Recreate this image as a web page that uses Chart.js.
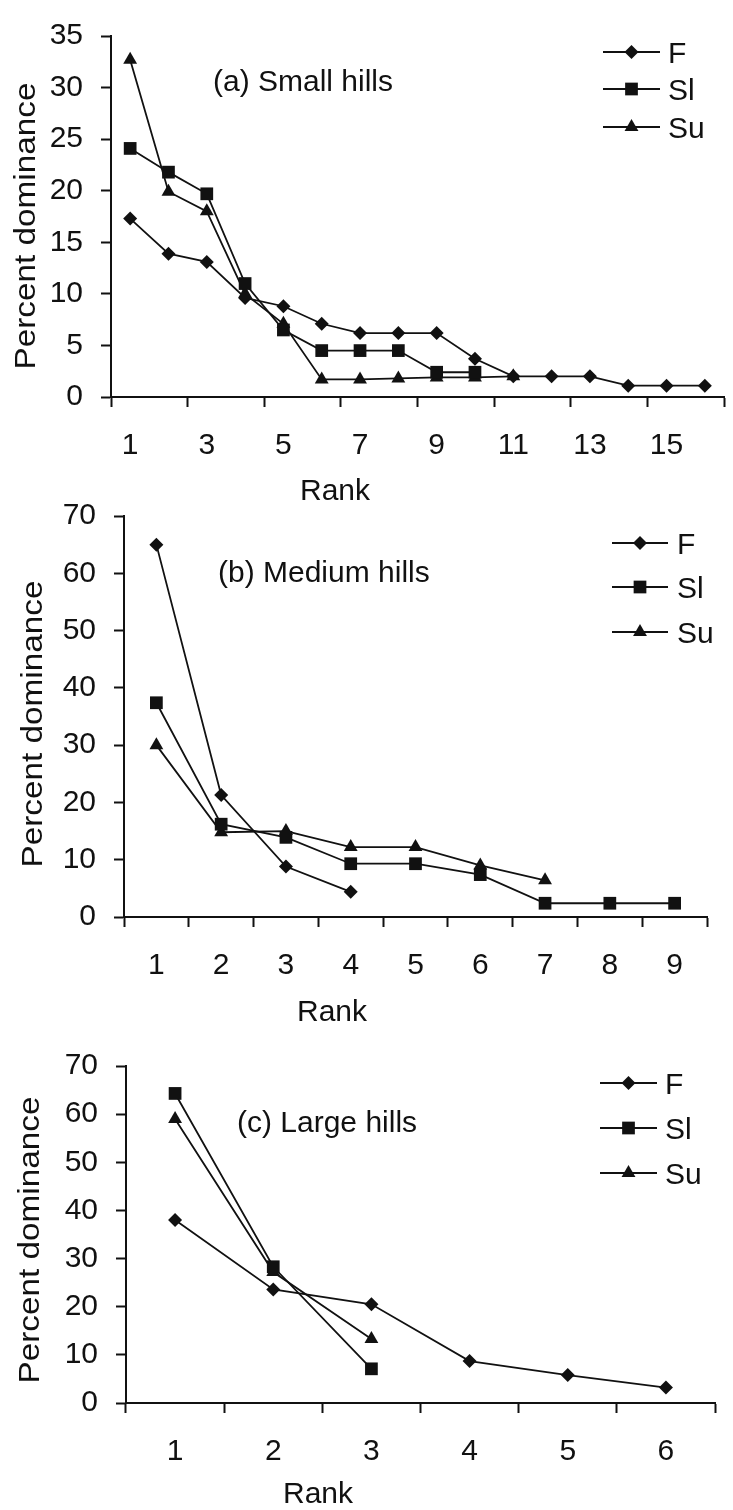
<!DOCTYPE html>
<html>
<head>
<meta charset="utf-8">
<script src="https://cdn.jsdelivr.net/npm/chart.js@4.4.1/dist/chart.umd.min.js"></script>
<style>
  body { margin: 0; background: #fff; }
  #wrap { position: relative; width: 733px; height: 1510px; overflow: hidden; }
  canvas { position: absolute; left: 0; }
</style>
</head>
<body>
<div id="wrap">
  <canvas id="chartA" width="733" height="510" style="top:0px"></canvas>
  <canvas id="chartB" width="733" height="560" style="top:480px"></canvas>
  <canvas id="chartC" width="733" height="480" style="top:1030px"></canvas>
</div>
<script>
// (a) Small hills
const ranksA = ['1','2','3','4','5','6','7','8','9','10','11','12','13','14','15','16'];
const fA  = [17.3, 13.9, 13.1, 9.6, 8.8, 7.1, 6.2, 6.2, 6.2, 3.7, 2.0, 2.0, 2.0, 1.1, 1.1, 1.1];
const slA = [24.1, 21.8, 19.7, 11.0, 6.5, 4.5, 4.5, 4.5, 2.4, 2.4];
const suA = [32.7, 19.9, 18.0, 10.0, 7.1, 1.7, 1.7, 1.8, 1.9, 1.9, 2.0];

// (b) Medium hills
const ranksB = ['1','2','3','4','5','6','7','8','9'];
const fB  = [65.0, 21.3, 8.8, 4.4];
const slB = [37.4, 16.2, 13.9, 9.3, 9.3, 7.4, 2.4, 2.4, 2.4];
const suB = [30.0, 14.8, 15.0, 12.2, 12.2, 9.0, 6.4];

// (c) Large hills
const ranksC = ['1','2','3','4','5','6'];
const fC  = [38.0, 23.6, 20.5, 8.7, 5.8, 3.2];
const slC = [64.3, 28.3, 7.1];
const suC = [59.0, 27.2, 13.3];

const seriesNames = ['F', 'Sl', 'Su'];

const FONT = '"Liberation Sans", Arial, Helvetica, sans-serif';
const INK = '#111';
const styles = [
  { pointStyle: 'rectRot', radius: 7 },
  { pointStyle: 'rect', radius: 9 },
  { pointStyle: 'triangle', radius: 8 }
];

function drawMarker(ctx, style, x, y, r) {
  ctx.beginPath();
  if (style === 'rectRot') {
    ctx.moveTo(x, y - r); ctx.lineTo(x + r, y); ctx.lineTo(x, y + r); ctx.lineTo(x - r, y);
  } else if (style === 'rect') {
    const s = r * Math.SQRT1_2;
    ctx.rect(x - s, y - s, 2 * s, 2 * s);
  } else {
    ctx.moveTo(x, y - r);
    ctx.lineTo(x + r * 0.866, y + r * 0.5);
    ctx.lineTo(x - r * 0.866, y + r * 0.5);
  }
  ctx.closePath();
  ctx.fill();
}

// text and legend drawn on top of each panel
function notesPlugin(n) {
  return {
    id: 'notes',
    afterDraw(chart) {
      const ctx = chart.ctx;
      ctx.save();
      ctx.fillStyle = INK;
      ctx.strokeStyle = INK;
      ctx.font = '30px ' + FONT;
      ctx.textBaseline = 'alphabetic';

      // panel label
      ctx.textAlign = 'left';
      ctx.fillText(n.label, n.labelX, n.labelY + 10.7);

      // x title
      ctx.textAlign = 'center';
      ctx.fillText('Rank', n.xTitleX, n.xTitleY + 10.7);

      // y title
      ctx.save();
      ctx.translate(n.yTitleX, n.yTitleY);
      ctx.rotate(-Math.PI / 2);
      ctx.scale(1.11, 1);
      ctx.textAlign = 'center';
      ctx.fillText('Percent dominance', 0, 10.7);
      ctx.restore();

      // legend
      ctx.lineWidth = 1.8;
      chart.data.datasets.forEach((ds, i) => {
        const y = n.legRows[i];
        ctx.beginPath();
        ctx.moveTo(n.legX1, y);
        ctx.lineTo(n.legX2, y);
        ctx.stroke();
        drawMarker(ctx, styles[i].pointStyle, (n.legX1 + n.legX2) / 2, y, styles[i].radius);
        ctx.textAlign = 'left';
        ctx.fillText(ds.label, n.legTextX, y + 10.7);
      });
      ctx.restore();
    }
  };
}

function makePanel(id, ranks, values, yMax, yStep, g, notes, labelEvery) {
  const datasets = values.map((v, i) => ({
    label: seriesNames[i],
    data: v,
    borderColor: INK,
    backgroundColor: INK,
    borderWidth: 1.8,
    pointStyle: styles[i].pointStyle,
    pointRadius: styles[i].radius,
    pointBorderWidth: 0,
    pointBackgroundColor: INK,
    tension: 0,
    fill: false
  }));

  return new Chart(document.getElementById(id), {
    type: 'line',
    data: { labels: ranks, datasets: datasets },
    options: {
      responsive: false,
      animation: false,
      devicePixelRatio: 1,
      layout: { padding: { top: g.top, right: 733 - g.right, left: 0, bottom: 0 } },
      plugins: { legend: { display: false }, tooltip: { enabled: false } },
      scales: {
        x: {
          type: 'category',
          offset: true,
          afterFit(scale) { scale.height = g.h - g.bottom; },
          border: { display: true, color: INK, width: 2 },
          grid: {
            offset: true,
            drawOnChartArea: false,
            drawTicks: true,
            tickLength: 10,
            tickWidth: 2,
            tickColor: ctx => (ctx.index === undefined || ctx.index % labelEvery === 0) ? INK : 'rgba(0,0,0,0)'
          },
          ticks: {
            autoSkip: false,
            maxRotation: 0,
            minRotation: 0,
            padding: 21,
            color: INK,
            font: { family: FONT, size: 30 },
            callback(val, idx) { return idx % labelEvery === 0 ? this.getLabelForValue(val) : ''; }
          }
        },
        y: {
          min: 0,
          max: yMax,
          afterFit(scale) { scale.width = g.left; },
          border: { display: true, color: INK, width: 2 },
          grid: {
            drawOnChartArea: false,
            drawTicks: true,
            tickLength: 10,
            tickWidth: 2,
            tickColor: INK
          },
          ticks: {
            stepSize: yStep,
            padding: 18,
            color: INK,
            font: { family: FONT, size: 30 }
          }
        }
      }
    },
    plugins: [notesPlugin(notes)]
  });
}

makePanel('chartA', ranksA, [fA, slA, suA], 35, 5,
  { left: 111, right: 732, top: 22, bottom: 397, h: 510 },
  { label: '(a) Small hills', labelX: 213, labelY: 80,
    xTitleX: 335, xTitleY: 489, yTitleX: 24, yTitleY: 226,
    legX1: 603, legX2: 660, legTextX: 668, legRows: [52, 89, 127] }, 2);

makePanel('chartB', ranksB, [fB, slB, suB], 70, 10,
  { left: 124, right: 707, top: 32, bottom: 437, h: 560 },
  { label: '(b) Medium hills', labelX: 218, labelY: 91,
    xTitleX: 332, xTitleY: 530, yTitleX: 31, yTitleY: 244,
    legX1: 612, legX2: 668, legTextX: 677, legRows: [63, 107, 152] }, 1);

makePanel('chartC', ranksC, [fC, slC, suC], 70, 10,
  { left: 126, right: 715, top: 36, bottom: 373, h: 480 },
  { label: '(c) Large hills', labelX: 237, labelY: 91,
    xTitleX: 318, xTitleY: 462, yTitleX: 28, yTitleY: 210,
    legX1: 600, legX2: 657, legTextX: 665, legRows: [53, 98, 143] }, 1);
</script>
</body>
</html>
